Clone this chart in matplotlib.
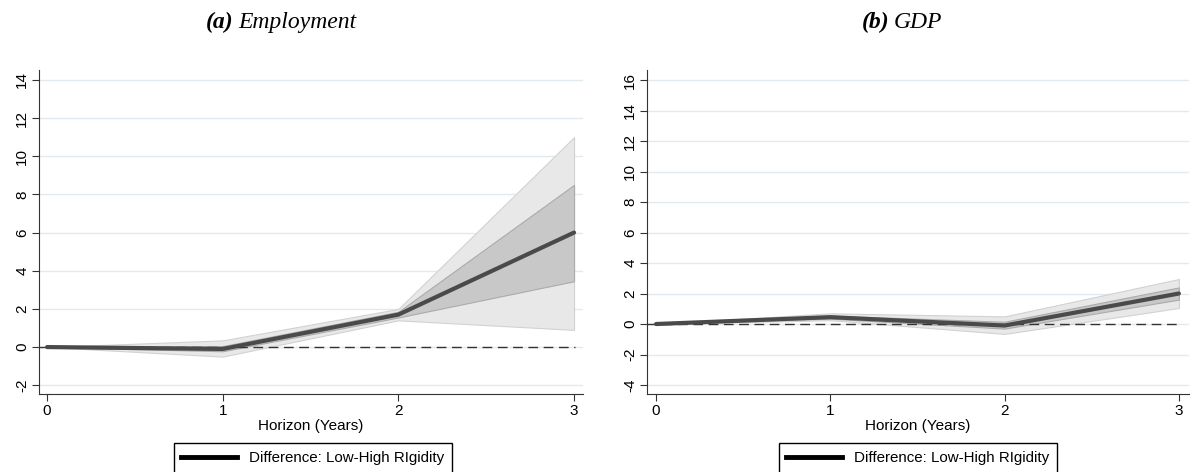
from matplotlib import pyplot as plt
from matplotlib.lines import Line2D

plt.rcParams['font.family'] = ['Liberation Sans', 'DejaVu Sans']

# Horizon in years
horizon = [0, 1, 2, 3]

# Employment: point estimate and two bands
emp_mid = [0.0, -0.1, 1.7, 6.0]
emp_in_lo = [0.0, -0.22, 1.55, 3.45]
emp_in_hi = [0.0, 0.05, 1.85, 8.5]
emp_out_lo = [0.0, -0.5, 1.4, 0.9]
emp_out_hi = [0.0, 0.35, 2.0, 11.0]

# GDP: point estimate and two bands
gdp_mid = [0.0, 0.45, -0.1, 2.0]
gdp_in_lo = [0.0, 0.35, -0.3, 1.6]
gdp_in_hi = [0.0, 0.55, 0.15, 2.4]
gdp_out_lo = [0.0, 0.25, -0.65, 1.05]
gdp_out_hi = [0.0, 0.7, 0.5, 2.95]

emp_yticks = list(range(-2, 15, 2))
gdp_yticks = list(range(-4, 17, 2))

fig = plt.figure(figsize=(11.9, 4.72), dpi=100)
ax1 = fig.add_axes([39 / 1190, 1 - 394 / 472, 544 / 1190, 324 / 472])
ax2 = fig.add_axes([647 / 1190, 1 - 394 / 472, 542 / 1190, 324 / 472])


def draw_panel(ax, mid, in_lo, in_hi, out_lo, out_hi, yticks, xlim, ylim):
    ax.fill_between(horizon, out_lo, out_hi, facecolor='#e8e8e8', edgecolor='#d2d2d2', lw=0.8, zorder=2)
    ax.fill_between(horizon, in_lo, in_hi, facecolor='#c8c8c8', edgecolor='#ababab', lw=0.8, zorder=3)
    ax.axhline(0, color='#333333', lw=1.0, ls=(0, (7, 4)), zorder=4, xmin=0.0, xmax=0.985)
    ax.plot(horizon, mid, color='#4a4a4a', lw=3, zorder=5, solid_capstyle='round')
    ax.set_xlim(*xlim)
    ax.set_ylim(*ylim)
    ax.set_xticks(horizon)
    ax.set_yticks(yticks)
    ax.set_yticklabels([str(t) for t in yticks], rotation=90, va='center')
    ax.grid(axis='y', color='#e1eaef', lw=1.0, zorder=0)
    ax.set_axisbelow(True)
    for s in ['top', 'right']:
        ax.spines[s].set_visible(False)
    ax.spines['left'].set_color('#333333')
    ax.spines['bottom'].set_color('#333333')
    ax.tick_params(labelsize=11, length=5, color='#333333', pad=2)
    ax.set_xlabel('Horizon (Years)', fontsize=11, labelpad=1)


draw_panel(ax1, emp_mid, emp_in_lo, emp_in_hi, emp_out_lo, emp_out_hi,
           emp_yticks, (-0.046, 3.051), (-2.46, 14.52))
draw_panel(ax2, gdp_mid, gdp_in_lo, gdp_in_hi, gdp_out_lo, gdp_out_hi,
           gdp_yticks, (-0.052, 3.058), (-4.59, 16.66))

# Panel titles: bold italic letter, italic name
title_y = 1 - 28 / 472
for x_split, letter, name in [(233, '(a)', 'Employment'), (889, '(b)', 'GDP')]:
    fig.text(x_split / 1190, title_y, letter, ha='right', va='baseline', fontsize=17,
             family='Liberation Serif', style='italic', weight='bold')
    fig.text((x_split + 5) / 1190, title_y, name, ha='left', va='baseline', fontsize=17,
             family='Liberation Serif', style='italic')

handle = [Line2D([], [], color='black', lw=3.5)]
for cx in [313 / 1190, 918 / 1190]:
    fig.legend(handle, ['Difference: Low-High RIgidity'], loc='center', bbox_to_anchor=(cx, 1 - 458 / 472),
               fontsize=10.9, frameon=True, fancybox=False, edgecolor='black', handlelength=3.7,
               borderpad=0.5, framealpha=1)

plt.savefig('out.png', dpi=100)
